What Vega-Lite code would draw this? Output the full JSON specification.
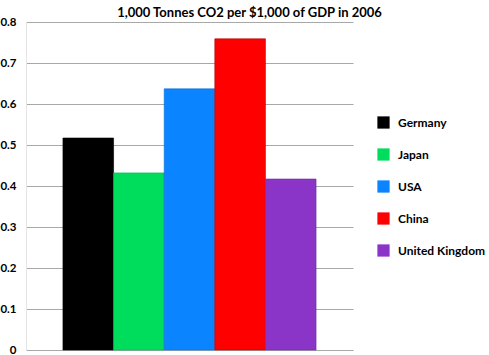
{
  "$schema": "https://vega.github.io/schema/vega-lite/v6.json",
  "width": 327,
  "height": 328,
  "autosize": {"type": "none"},
  "padding": {"left": 26, "top": 22, "right": 136, "bottom": 5},
  "background": "white",
  "title": {
    "text": "1,000 Tonnes CO2 per $1,000 of GDP in 2006",
    "font": "Lato",
    "fontSize": 13,
    "fontWeight": "bold",
    "color": "#000000",
    "anchor": "middle",
    "dx": 60,
    "offset": -4
  },
  "data": {
    "values": [
      {"country": "Germany", "value": 0.517},
      {"country": "Japan", "value": 0.432},
      {"country": "USA", "value": 0.637},
      {"country": "China", "value": 0.759},
      {"country": "United Kingdom", "value": 0.417}
    ]
  },
  "config": {
    "view": {"stroke": null},
    "font": "Lato"
  },
  "mark": {"type": "bar", "strokeWidth": 0.6},
  "encoding": {
    "x": {
      "field": "country",
      "type": "nominal",
      "sort": null,
      "axis": null,
      "scale": {"paddingInner": 0, "paddingOuter": 0.73}
    },
    "y": {
      "field": "value",
      "type": "quantitative",
      "scale": {"domain": [0, 0.8], "nice": false},
      "axis": {
        "title": null,
        "values": [0, 0.1, 0.2, 0.3, 0.4, 0.5, 0.6, 0.7, 0.8],
        "format": "~g",
        "labelFont": "Lato",
        "labelFontSize": 11.5,
        "labelFontWeight": "bold",
        "labelColor": "#000000",
        "labelPadding": 10,
        "ticks": false,
        "domain": true,
        "domainColor": "#e4e4e4",
        "gridColor": "#a8a8a8",
        "gridWidth": 1
      }
    },
    "color": {
      "field": "country",
      "type": "nominal",
      "sort": null,
      "scale": {
        "domain": ["Germany", "Japan", "USA", "China", "United Kingdom"],
        "range": ["#000000", "#00dd5c", "#0a84ff", "#ff0000", "#8b34c8"]
      },
      "legend": {
        "title": null,
        "orient": "none",
        "legendX": 351,
        "legendY": 94,
        "symbolType": "square",
        "symbolSize": 150,
        "symbolStrokeWidth": 0,
        "symbolOpacity": 1,
        "labelFont": "Lato",
        "labelFontSize": 12,
        "labelFontWeight": "bold",
        "labelColor": "#000000",
        "labelOffset": 8,
        "rowPadding": 19
      }
    },
    "stroke": {
      "field": "country",
      "type": "nominal",
      "sort": null,
      "scale": {
        "domain": ["Germany", "Japan", "USA", "China", "United Kingdom"],
        "range": ["#000000", "#00b84a", "#0a6fd8", "#b00000", "#6c2aa0"]
      },
      "legend": null
    }
  }
}
